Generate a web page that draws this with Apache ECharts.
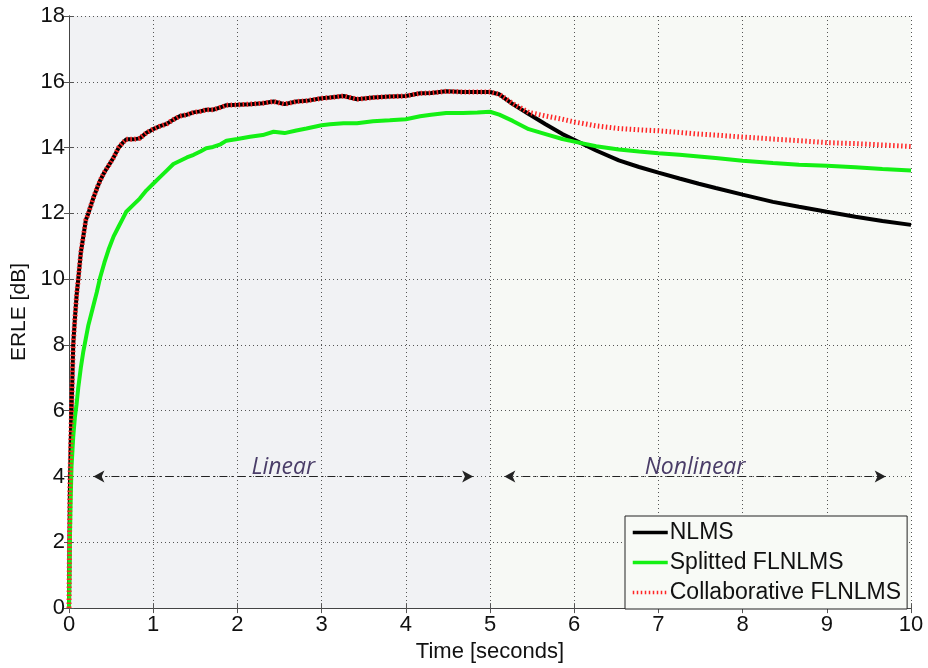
<!DOCTYPE html>
<html>
<head>
<meta charset="utf-8">
<script src="https://cdn.jsdelivr.net/npm/echarts@6/dist/echarts.min.js"></script>
<style>
html,body{margin:0;padding:0;background:#fff;}
#chart{width:928px;height:668px;}
</style>
</head>
<body>
<div id="chart"></div>
<script>
// ---- data ----
var timeSec = [0, 0.01, 0.02, 0.03, 0.05, 0.07, 0.09, 0.11, 0.14, 0.17, 0.2, 0.23, 0.28, 0.33, 0.37, 0.42, 0.47, 0.53, 0.59, 0.64, 0.68, 0.76, 0.84, 0.92, 1.0, 1.08, 1.16, 1.24, 1.32, 1.4, 1.48, 1.56, 1.63, 1.71, 1.8, 1.87, 2.0, 2.15, 2.3, 2.43, 2.56, 2.7, 2.82, 3.0, 3.1, 3.26, 3.42, 3.61, 3.81, 4.0, 4.17, 4.3, 4.48, 4.68, 4.85, 5.0, 5.11, 5.27, 5.46, 5.66, 5.86, 6.0, 6.26, 6.53, 6.77, 7.0, 7.25, 7.48, 7.68, 8.0, 8.36, 8.67, 9.0, 9.34, 9.66, 10.0];

var nlms = [0, 3.5, 5.0, 6.0, 8.0, 8.8, 9.5, 10.0, 10.8, 11.3, 11.8, 12.0, 12.4, 12.75, 13.0, 13.25, 13.45, 13.7, 14.0, 14.15, 14.25, 14.25, 14.28, 14.45, 14.56, 14.65, 14.72, 14.85, 14.96, 15.0, 15.07, 15.1, 15.15, 15.15, 15.22, 15.29, 15.3, 15.32, 15.35, 15.4, 15.32, 15.4, 15.42, 15.5, 15.52, 15.57, 15.47, 15.52, 15.55, 15.57, 15.65, 15.66, 15.71, 15.69, 15.69, 15.69, 15.62, 15.32, 15.02, 14.71, 14.41, 14.24, 13.91, 13.61, 13.41, 13.24, 13.06, 12.9, 12.77, 12.57, 12.35, 12.2, 12.05, 11.9, 11.77, 11.65];

var splitted = [0, 2.0, 3.3, 4.3, 5.2, 5.8, 6.2, 6.7, 7.3, 7.8, 8.2, 8.6, 9.1, 9.6, 10.05, 10.5, 10.9, 11.3, 11.6, 11.85, 12.05, 12.25, 12.45, 12.7, 12.9, 13.1, 13.3, 13.5, 13.6, 13.7, 13.78, 13.88, 13.98, 14.02, 14.1, 14.21, 14.26, 14.33, 14.38, 14.48, 14.44, 14.52, 14.58, 14.68, 14.71, 14.74, 14.74, 14.8, 14.83, 14.86, 14.95, 15.0, 15.05, 15.05, 15.07, 15.09, 15.0, 14.81, 14.56, 14.41, 14.26, 14.18, 14.04, 13.94, 13.88, 13.83, 13.78, 13.73, 13.68, 13.6, 13.53, 13.48, 13.45, 13.4, 13.35, 13.3];

var collaborative = [0, 3.5, 5.0, 6.0, 8.0, 8.8, 9.5, 10.0, 10.8, 11.3, 11.8, 12.0, 12.4, 12.75, 13.0, 13.25, 13.45, 13.7, 14.0, 14.15, 14.25, 14.25, 14.28, 14.45, 14.56, 14.65, 14.72, 14.85, 14.96, 15.0, 15.07, 15.1, 15.15, 15.15, 15.22, 15.29, 15.3, 15.32, 15.35, 15.4, 15.32, 15.4, 15.42, 15.5, 15.52, 15.57, 15.47, 15.52, 15.55, 15.57, 15.65, 15.66, 15.71, 15.69, 15.69, 15.69, 15.62, 15.34, 15.07, 14.96, 14.86, 14.78, 14.66, 14.58, 14.54, 14.51, 14.46, 14.41, 14.38, 14.32, 14.26, 14.21, 14.15, 14.12, 14.08, 14.03];

var seriesNames = ['NLMS', 'Splitted FLNLMS', 'Collaborative FLNLMS'];

// regions and annotations
var linearRegion = [0, 5];
var nonlinearRegion = [5, 10];
var linearArrow = [0.29, 4.8];
var nonlinearArrow = [5.17, 9.7];
var arrowLevel = 4;
var regionLabels = ['Linear', 'Nonlinear'];

function pairs(vals) {
  return timeSec.map(function (t, i) { return [t, vals[i]]; });
}

var FONT = '"Liberation Sans", Arial, sans-serif';

var chart = echarts.init(document.getElementById('chart'), null, {renderer: 'canvas'});

var option = {
  animation: false,
  backgroundColor: '#ffffff',
  grid: {
    left: 69, right: 17, top: 16, bottom: 55,
    show: false
  },
  legend: {
    data: seriesNames,
    orient: 'vertical',
    left: 625,
    top: 516,
    padding: [5, 6, 5, 6],
    itemGap: 7,
    itemWidth: 35,
    itemHeight: 14,
    backgroundColor: '#f8faf6',
    borderColor: '#222',
    borderWidth: 1,
    borderRadius: 0,
    itemStyle: {color: 'transparent', borderWidth: 0, opacity: 0},
    lineStyle: {width: 3.5},
    textStyle: {fontSize: 23, fontFamily: FONT, color: '#111', padding: [0, 0, 0, -3]}
  },
  xAxis: [{
    type: 'value', min: 0, max: 10, interval: 1, position: 'bottom',
    name: 'Time [seconds]', nameLocation: 'middle', nameGap: 29,
    nameTextStyle: {fontSize: 22, fontFamily: FONT, color: '#111'},
    axisLine: {show: true, lineStyle: {color: '#222', width: 1}},
    axisTick: {show: true, inside: true, length: 5, lineStyle: {color: '#555'}},
    axisLabel: {fontSize: 22, fontFamily: FONT, color: '#111', margin: 6},
    splitLine: {show: true, lineStyle: {type: [1, 3], color: '#555', width: 1}}
  }, {
    type: 'value', min: 0, max: 10, interval: 1, position: 'top',
    axisLine: {show: true, lineStyle: {color: '#444', width: 1}},
    axisTick: {show: true, inside: true, length: 5, lineStyle: {color: '#555'}},
    axisLabel: {show: false},
    splitLine: {show: false}
  }],
  yAxis: [{
    type: 'value', min: 0, max: 18, interval: 2, position: 'left',
    name: 'ERLE [dB]', nameLocation: 'middle', nameGap: 37,
    nameTextStyle: {fontSize: 21, fontFamily: FONT, color: '#111'},
    axisLine: {show: true, lineStyle: {color: '#222', width: 1}},
    axisTick: {show: true, inside: true, length: 5, lineStyle: {color: '#555'}},
    axisLabel: {fontSize: 22, fontFamily: FONT, color: '#111', margin: 4},
    splitLine: {show: true, lineStyle: {type: [1, 3], color: '#555', width: 1}}
  }, {
    type: 'value', min: 0, max: 18, interval: 2, position: 'right',
    axisLine: {show: true, lineStyle: {color: '#444', width: 1}},
    axisTick: {show: true, inside: true, length: 5, lineStyle: {color: '#555'}},
    axisLabel: {show: false},
    splitLine: {show: false}
  }],
  series: [
    {
      type: 'line', data: [], z: -1, silent: true,
      markArea: {
        silent: true,
        z: -1,
        data: [
          [{xAxis: linearRegion[0], itemStyle: {color: '#f1f2f4'}}, {xAxis: linearRegion[1]}],
          [{xAxis: nonlinearRegion[0], itemStyle: {color: '#f7f9f5'}}, {xAxis: nonlinearRegion[1]}]
        ]
      }
    },
    {
      name: seriesNames[0], type: 'line', data: pairs(nlms), showSymbol: false, symbol: 'none',
      lineStyle: {color: '#000000', width: 4}, itemStyle: {color: '#000000'}, z: 3
    },
    {
      name: seriesNames[1], type: 'line', data: pairs(splitted), showSymbol: false, symbol: 'none',
      lineStyle: {color: '#14f014', width: 4}, itemStyle: {color: '#14f014'}, z: 3
    },
    {
      name: seriesNames[2], type: 'line', data: pairs(collaborative), showSymbol: false, symbol: 'none',
      lineStyle: {color: '#ff2626', width: 5, type: [1.5, 2.5]}, itemStyle: {color: '#ff2626'}, z: 4
    },
    {
      type: 'line', data: [], silent: true, z: 5,
      markLine: {
        silent: true,
        symbol: ['arrow', 'arrow'],
        symbolSize: [9, 11],
        lineStyle: {color: '#222', width: 1.2, type: [8, 4, 2, 4]},
        label: {
          show: true, position: 'middle', distance: -2,
          fontSize: 23, fontStyle: 'italic', fontFamily: '"Open Sans", "Noto Sans", sans-serif',
          color: '#4a3d68'
        },
        data: [
          [{coord: [linearArrow[0], arrowLevel], label: {formatter: regionLabels[0]}}, {coord: [linearArrow[1], arrowLevel]}],
          [{coord: [nonlinearArrow[0], arrowLevel], label: {formatter: regionLabels[1]}}, {coord: [nonlinearArrow[1], arrowLevel]}]
        ]
      }
    }
  ]
};

chart.setOption(option);
</script>
</body>
</html>
